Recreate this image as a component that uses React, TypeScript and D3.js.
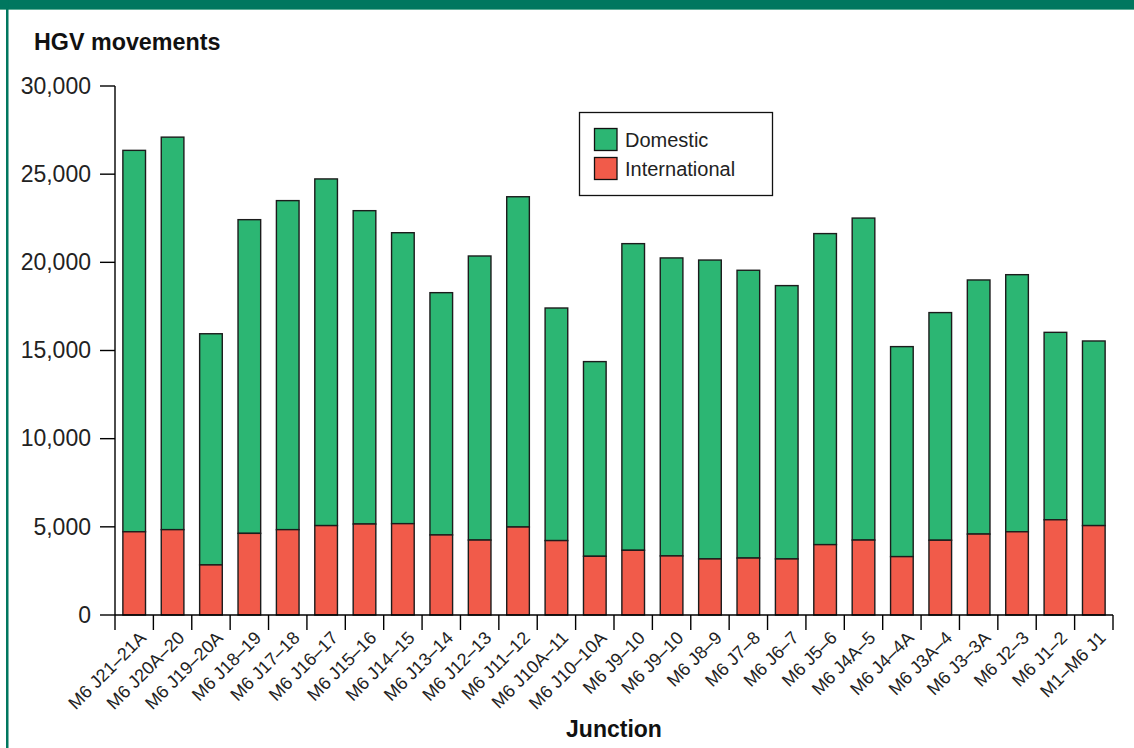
import React, { useEffect } from "react";
import * as d3 from "d3";

const junctions = [
  "M6 J21–21A", "M6 J20A–20", "M6 J19–20A", "M6 J18–19", "M6 J17–18", "M6 J16–17",
  "M6 J15–16", "M6 J14–15", "M6 J13–14", "M6 J12–13", "M6 J11–12", "M6 J10A–11",
  "M6 J10–10A", "M6 J9–10", "M6 J9–10", "M6 J8–9", "M6 J7–8", "M6 J6–7",
  "M6 J5–6", "M6 J4A–5", "M6 J4–4A", "M6 J3A–4", "M6 J3–3A", "M6 J2–3",
  "M6 J1–2", "M1–M6 J1",
];
const international = [
  4720, 4840, 2840, 4630, 4840, 5070, 5160, 5180, 4540, 4250, 4990, 4220, 3330,
  3670, 3350, 3180, 3230, 3180, 3990, 4250, 3310, 4240, 4590, 4720, 5400, 5070,
];
const domestic = [
  21630, 22260, 13110, 17790, 18660, 19660, 17770, 16500, 13740, 16110, 18730, 13190, 11040,
  17390, 16900, 16950, 16320, 15500, 17640, 18260, 11910, 12910, 14410, 14580, 10630, 10470,
];
const yTicks = [0, 5000, 10000, 15000, 20000, 25000, 30000];
const seriesNames = ["Domestic", "International"];

const W = 1134, H = 748;
const left = 115, right = 1113, top = 86, bottom = 615;
const GREEN = "#2cb673", RED = "#f15b4a", FRAME = "#00775f";
const FONT = "'Liberation Sans', Arial, Helvetica, sans-serif";

export default function App() {
  useEffect(() => {
    document.body.style.margin = "0";
  }, []);
  const idx = junctions.map((_, i) => String(i));
  const x = d3.scaleBand<string>().domain(idx).range([left, right]).paddingInner(0.41).paddingOuter(0.205);
  const xb = d3.scaleBand<string>().domain(idx).range([left, right]);
  const y = d3.scaleLinear().domain([0, 30000]).range([bottom, top]);
  const fmt = d3.format(",");
  const bw = x.bandwidth();

  return (
    <svg width={W} height={H} style={{ position: "absolute", left: 0, top: 0, background: "#fff" }} fontFamily={FONT}>
      <rect x={0} y={0} width={W} height={9} fill={FRAME} />
      <rect x={0} y={9} width={W} height={1} fill="#5fae97" />
      <rect x={6} y={0} width={2.5} height={H} fill={FRAME} />
      <text x={34} y={50} fontSize={23.3} fontWeight="bold" fill="#111">HGV movements</text>

      {/* bars */}
      {idx.map((k, i) => {
        const x0 = x(k)!;
        const yi = y(international[i]);
        const yt = y(international[i] + domestic[i]);
        return (
          <g key={k} stroke="#1c1c1c" strokeWidth={1.4}>
            <rect x={x0} y={yt} width={bw} height={yi - yt} fill={GREEN} />
            <rect x={x0} y={yi} width={bw} height={y(0) - yi} fill={RED} />
          </g>
        );
      })}

      {/* y axis */}
      <line x1={left} x2={left} y1={top} y2={bottom} stroke="#000" strokeWidth={1.4} />
      {yTicks.map((t) => (
        <g key={t}>
          <line x1={left - 15} x2={left} y1={y(t)} y2={y(t)} stroke="#000" strokeWidth={1.4} />
          <text x={91} y={y(t)} dy="0.34em" textAnchor="end" fontSize={23} fill="#222">{fmt(t)}</text>
        </g>
      ))}

      {/* x axis */}
      <line x1={left} x2={right} y1={bottom} y2={bottom} stroke="#000" strokeWidth={1.4} />
      {[...idx.map((k) => xb(k)!), right].map((tx, i) => (
        <line key={i} x1={tx} x2={tx} y1={bottom} y2={bottom + 15} stroke="#000" strokeWidth={1.4} />
      ))}
      {junctions.map((name, i) => {
        const cx = xb(String(i))! + xb.bandwidth() / 2;
        return (
          <text key={i} transform={`translate(${cx + 13},${639}) rotate(-45)`} textAnchor="end" fontSize={18} fill="#222">
            {name}
          </text>
        );
      })}
      <text x={(left + right) / 2} y={737} textAnchor="middle" fontSize={23} fontWeight="bold" fill="#111">Junction</text>

      {/* legend */}
      <rect x={579.5} y={112.5} width={193} height={83} fill="#fff" stroke="#111" strokeWidth={1.3} />
      {seriesNames.map((s, i) => (
        <g key={s}>
          <rect x={594.5} y={128.5 + i * 29} width={22.5} height={22} fill={i === 0 ? GREEN : RED} stroke="#111" strokeWidth={1.3} />
          <text x={625} y={147 + i * 29} fontSize={20} fill="#222">{s}</text>
        </g>
      ))}
    </svg>
  );
}
